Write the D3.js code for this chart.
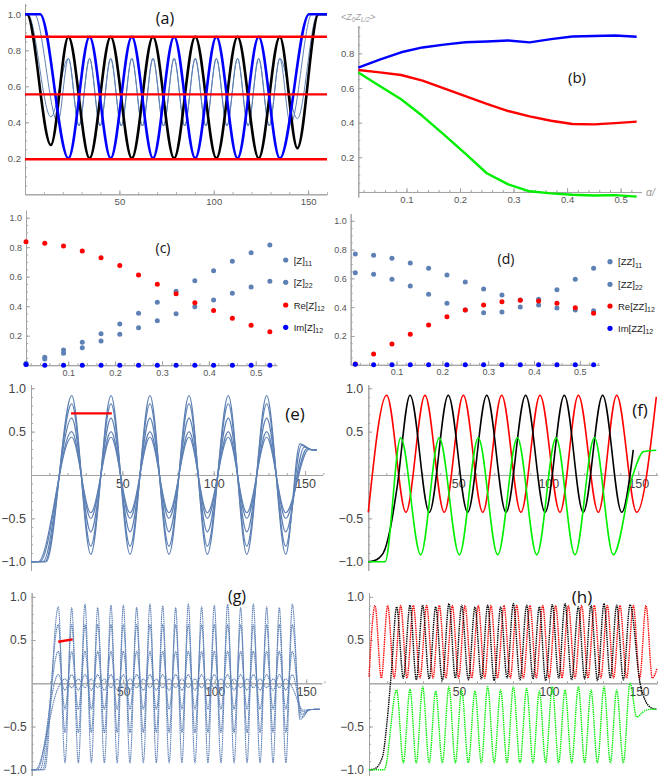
<!DOCTYPE html>
<html lang="en">
<head>
<meta charset="UTF-8">
<title>Panels a-h</title>
<script src="https://d3js.org/d3.v7.min.js"></script>
<style>
  body { margin: 0; background: #fff; }
  svg { display: block; }
</style>
</head>
<body>
<svg width="658" height="776" id="mainsvg"></svg>
<script>
// ---------------- data ----------------
// (a) extrema of the curves, x in sites, y in probability
const aRedLevels = [0.875, 0.555, 0.195];
const aBlackHead = [[0, 1], [1, 1], [13.7, 0.274]];
const aBlackPeakX = [23.0, 45.4, 67.8, 90.2, 112.6, 135.0];
const aBlackTroughX = [34.2, 56.6, 79.0, 101.4, 123.8];
const aBlackLevels = [0.875, 0.2];
const aBlackTail = [[144.3, 0.256], [155.5, 1], [160, 1]];
const aBlueHead = [[0, 1], [8, 1]];
const aBlueTail = [[150.5, 1], [160, 1]];
const aThinPeakX = [23.0, 34.2, 45.4, 56.6, 67.8, 79.0, 90.2, 101.4, 112.6, 123.8, 135.0];
const aThinTroughX = [28.6, 39.8, 51.0, 62.2, 73.4, 84.6, 95.8, 107.0, 118.2, 129.4];
const aThinLevels = [0.755, 0.38];
const aThinAHead = [[0, 1], [1.5, 1], [13.7, 0.43]];
const aThinATail = [[144.3, 0.42], [155, 1], [160, 1]];
const aThinBHead = [[0, 1], [5, 1], [17.4, 0.4]];
const aThinBTail = [[140.6, 0.39], [152, 1], [160, 1]];

// (b), (c), (d) share the alpha grid
const alphaVals = [0.01, 0.05, 0.09, 0.13, 0.17, 0.21, 0.25, 0.29, 0.33, 0.37, 0.41, 0.45, 0.49, 0.53];
const bBlue = [0.717, 0.764, 0.806, 0.834, 0.850, 0.864, 0.868, 0.874, 0.863, 0.882, 0.897, 0.900, 0.903, 0.896];
const bRed = [0.704, 0.690, 0.675, 0.643, 0.598, 0.553, 0.509, 0.467, 0.436, 0.411, 0.392, 0.390, 0.397, 0.406];
const bGreen = [0.690, 0.612, 0.535, 0.438, 0.331, 0.221, 0.108, 0.044, 0.004, -0.008, -0.016, -0.020, -0.018, -0.027];

const cZ11 = [0.013, 0.054, 0.103, 0.155, 0.214, 0.279, 0.352, 0.426, 0.501, 0.573, 0.641, 0.704, 0.763, 0.815];
const cZ22 = [0.006, 0.042, 0.081, 0.119, 0.164, 0.210, 0.254, 0.302, 0.349, 0.397, 0.442, 0.487, 0.530, 0.569];
const cReZ12 = [0.837, 0.826, 0.808, 0.774, 0.729, 0.675, 0.612, 0.548, 0.485, 0.424, 0.370, 0.318, 0.270, 0.227];
const cImZ12 = [0.004, 0, 0, 0, 0, 0, 0, 0, 0, 0, 0, 0, 0, 0];
const cLegend = [['[Z]', '11'], ['[Z]', '22'], ['Re[Z]', '12'], ['Im[Z]', '12']];

const dZZ11 = [0.769, 0.760, 0.740, 0.707, 0.670, 0.624, 0.575, 0.526, 0.485, 0.450, 0.455, 0.522, 0.594, 0.670];
const dZZ22 = [0.640, 0.628, 0.594, 0.547, 0.490, 0.427, 0.380, 0.362, 0.367, 0.401, 0.415, 0.394, 0.381, 0.376];
const dReZZ12 = [0.006, 0.075, 0.144, 0.212, 0.276, 0.334, 0.381, 0.415, 0.438, 0.448, 0.443, 0.427, 0.397, 0.358];
const dImZZ12 = [0.003, 0, 0, 0, 0, 0, 0, 0, 0, 0, 0, 0, 0, 0];
const dLegend = [['[ZZ]', '11'], ['[ZZ]', '22'], ['Re[ZZ]', '12'], ['Im[ZZ]', '12']];

// (e) five nested curves
const ePeakX = [22.3, 43.8, 65.1, 86.5, 108.0, 129.0];
const eTroughX = [32.7, 54.2, 75.5, 96.5, 118.1, 139.4];
const eAmp = [0.915, 0.82, 0.655, 0.5, 0.435];
const eStartX = [8.3, 7.7, 6.5, 4.9, 3.9];
const eEndPeak = [[147.2, 0.36], [148, 0.34], [149.5, 0.32], [151, 0.305], [152, 0.295]];
const eTail = [[154, 0.29], [156.4, 0.29]];
const eRedSeg = [[21.9, 0.71], [44.2, 0.71]];

// (f)
const fRedHead = [[0, -0.43]];
const fRedPeakX = [10.2, 31.5, 52.8, 74.1, 95.4, 116.7, 138.0];
const fRedTroughX = [20.9, 42.2, 63.6, 84.8, 106.5, 127.8, 149.1];
const fRedTail = [[160, 0.9]];
const fBlackHead = [[0, -1], [3, -0.99], [8.3, -0.9], [12.1, -0.63], [15.8, -0.17]];
const fBlackPeakX = [23.2, 44.4, 65.8, 87.4, 108.9, 130.2];
const fBlackTroughX = [33.9, 55.2, 76.5, 98.2, 119.4, 140.8];
const fBlackTail = [[147.2, 0.29]];
const fGreenHead = [[0, -1], [9.3, -1]];
const fGreenPeakX = [18.0, 39.4, 61.1, 82.8, 104.3, 125.6];
const fGreenTroughX = [29.1, 50.6, 71.9, 93.6, 114.8, 136.1];
const fGreenTail = [[147, 0.0], [153, 0.27], [160, 0.285]];
const fLevels = { red: [0.92, -0.43], black: [0.92, -0.43], green: [0.43, -0.92] };

// (g)
const gPeakX = [14.55, 21.84, 29.13, 36.05, 43.33, 50.07, 57.36, 64.64, 71.57, 78.67, 85.59, 92.88, 99.80, 107.09, 114.19, 121.11, 128.40, 135.32, 142.42];
const gTroughX = [18.2, 25.5, 32.6, 39.7, 46.7, 53.7, 61.0, 68.1, 75.1, 82.1, 89.2, 96.3, 103.4, 110.6, 117.7, 124.8, 131.9, 138.9];
const gOuterPeakY = [0.884, 0.872, 0.915, 0.876, 0.903, 0.903, 0.876, 0.915, 0.895, 0.876, 0.915, 0.884, 0.903, 0.915, 0.876, 0.915, 0.884, 0.876, 0.915];
const gOuterTrough = -0.92;
const gInner = [[0.68, -0.57], [0.37, -0.3], [0.1, -0.08], [-0.05, 0.05]];
const gStartX = [7, 6, 4.5, 3, 2];
const gEndDip = [[146.6, -0.42], [147, -0.39], [147.4, -0.36], [147.8, -0.33], [148.2, -0.31]];
const gTail = [[152, -0.305], [157.5, -0.3]];
const gRedSeg = [[14.5, 0.48], [22.4, 0.508]];

// (h)
const hRedPeakX = [3.33, 10.37, 17.59, 24.63, 32.04, 39.07, 46.30, 53.33, 60.74, 67.78, 75.00, 82.04, 89.44, 96.48, 103.70, 110.74, 118.15, 125.19, 132.41, 139.44, 146.85, 153.89];
const hRedTroughX = [6.85, 13.98, 21.11, 28.33, 35.56, 42.69, 49.81, 57.04, 64.26, 71.39, 78.52, 85.74, 92.96, 100.09, 107.22, 114.44, 121.67, 128.80, 135.93, 143.15, 150.37, 157.40];
const hRedLevels = [0.9, 0.06];
const hRedHead = [[0, 0.075]];
const hRedTail = [[160, 0.17]];
const hPeakX = [15.37, 22.78, 29.81, 37.04, 44.44, 51.48, 58.89, 65.93, 73.15, 80.19, 87.59, 94.63, 101.85, 108.89, 116.30, 123.33, 130.56, 137.59, 145.0];
const hTroughX = [19.07, 26.30, 33.43, 40.74, 47.96, 55.19, 62.41, 69.54, 76.67, 83.89, 91.11, 98.15, 105.37, 112.59, 119.82, 126.94, 134.08, 141.3];
const hBlackPeakY = [0.884, 0.903, 0.903, 0.884, 0.922, 0.903, 0.884, 0.903, 0.884, 0.922, 0.903, 0.884, 0.91, 0.922, 0.884, 0.903, 0.922, 0.903, 0.91];
const hBlackTroughY = [0.06, 0.04, 0.05, 0.03, 0.06, 0.04, 0.05, 0.03, 0.06, 0.04, 0.05, 0.03, 0.06, 0.04, 0.05, 0.03, 0.06, 0.04];
const hBlackHead = [[0, -1], [3, -0.99], [7.5, -0.85], [10, -0.45], [12.5, 0.15]];
const hBlackTail = [[150.6, 0], [154, -0.22], [157.5, -0.29], [160, -0.3]];
const hGreenPeakY = [-0.077, -0.07, -0.04, -0.09, -0.04, -0.077, -0.09, -0.04, -0.077, -0.04, -0.059, -0.09, -0.04, -0.077, -0.04, -0.077, -0.04, -0.077, 0.0];
const hGreenTrough = -0.92;
const hGreenHead = [[0, -1], [8.5, -1]];
const hGreenTail = [[148.7, -0.39], [153, -0.32], [157, -0.3], [160, -0.3]];

// ticks
const siteTicks = [50, 100, 150];
const alphaTicks = [0.1, 0.2, 0.3, 0.4, 0.5];
const probTicks = [0.2, 0.4, 0.6, 0.8, 1.0];
const bTicks = [0.2, 0.4, 0.6, 0.8];
const waveTicks = [-1.0, -0.5, 0.5, 1.0];

// ---------------- drawing ----------------
const svg = d3.select('#mainsvg');
const AXIS = '#a3a3a3';
const MBLUE = '#5e81b5';
const f1 = d3.format('.1f');

// join extrema: first series, second series alternating
function wave(head, ax, ay, bx, by, tail) {
    const pts = head.slice();
    ax.forEach((x, i) => {
        pts.push([x, Array.isArray(ay) ? ay[i] : ay]);
        if (i < bx.length) pts.push([bx[i], Array.isArray(by) ? by[i] : by]);
    });
    return pts.concat(tail);
}

function panel(o) {
    const x = d3.scaleLinear().domain(o.xd).range(o.xr);
    const y = d3.scaleLinear().domain(o.yd).range(o.yr);
    const g = svg.append('g');
    const y0 = y(0), x0 = x(o.xd[0]);
    g.append('g').attr('transform', `translate(0,${y0})`)
        .call(d3.axisBottom(x).tickValues(o.xMinor).tickSizeInner(-2).tickSizeOuter(0).tickFormat(''));
    g.append('g').attr('transform', `translate(${x0},0)`)
        .call(d3.axisLeft(y).tickValues(o.yMinor).tickSizeInner(-2).tickSizeOuter(0).tickFormat(''));
    g.append('g').attr('transform', `translate(0,${y0})`)
        .call(d3.axisBottom(x).tickValues(o.xTicks).tickSizeInner(-4).tickSizeOuter(0).tickPadding(o.padX).tickFormat(o.xFmt));
    g.append('g').attr('transform', `translate(${x0},0)`)
        .call(d3.axisLeft(y).tickValues(o.yTicks).tickSizeInner(-4).tickSizeOuter(0).tickPadding(o.padY).tickFormat(o.yFmt));
    g.selectAll('.domain, .tick line').attr('stroke', AXIS).attr('stroke-width', 1);
    g.selectAll('.tick text').attr('fill', o.tc).attr('font-size', o.fs)
        .attr('font-family', '"Liberation Sans", Arial, sans-serif');
    const line = d3.line().x(d => x(d[0])).y(d => y(d[1]));
    return { g, x, y, line };
}

function curve(p, pts, color, width, curveType, dash) {
    p.g.append('path')
        .attr('d', p.line.curve(curveType || d3.curveMonotoneX)(pts))
        .attr('fill', 'none')
        .attr('stroke', color)
        .attr('stroke-width', width)
        .attr('stroke-dasharray', dash || null)
        .attr('stroke-linejoin', 'round');
}

function label(txt, x, y, size) {
    svg.append('text').text(txt)
        .attr('x', x).attr('y', y)
        .attr('text-anchor', 'middle')
        .attr('dominant-baseline', 'central')
        .attr('font-family', '"Open Sans", sans-serif')
        .attr('font-size', size)
        .attr('fill', '#111');
}

// ---- (a)
const pa = panel({ xd: [0, 160], xr: [25, 327], yd: [0, 1.06], yr: [194.3, 3.5],
    xTicks: siteTicks, yTicks: probTicks, xMinor: d3.range(10, 161, 10), yMinor: d3.range(0.05, 1.06, 0.05),
    xFmt: d3.format('d'), yFmt: f1, padX: 4, padY: 4, fs: 9.5, tc: '#555' });
curve(pa, wave(aThinAHead, aThinPeakX, aThinLevels[0], aThinTroughX, aThinLevels[1], aThinATail), MBLUE, 1);
curve(pa, wave(aThinBHead, aThinPeakX, aThinLevels[0], aThinTroughX, aThinLevels[1], aThinBTail), MBLUE, 1);
curve(pa, wave(aBlackHead, aBlackPeakX, aBlackLevels[0], aBlackTroughX, aBlackLevels[1], aBlackTail), '#000', 2.6);
curve(pa, wave(aBlueHead, aBlackPeakX, aBlackLevels[1], aBlackTroughX, aBlackLevels[0], aBlueTail), '#0000ff', 2.6);
aRedLevels.forEach(v => curve(pa, [[0, v], [160, v]], '#ff0000', 2.4, d3.curveLinear));
label('(a)', 165, 18, 16);

// ---- (b)
const pb = panel({ xd: [0.01, 0.539], xr: [358.3, 641.5], yd: [-0.03, 0.96], yr: [197.17, 25.6],
    xTicks: alphaTicks, yTicks: bTicks, xMinor: d3.range(0.02, 0.54, 0.02), yMinor: d3.range(0.05, 0.96, 0.05),
    xFmt: f1, yFmt: f1, padX: 4, padY: 4, fs: 9.5, tc: '#555' });
[[bBlue, '#0000ff'], [bRed, '#ff0000'], [bGreen, '#00ee00']].forEach(([vals, col]) => {
    curve(pb, vals.map((v, i) => [alphaVals[i], v]), col, 2.4, d3.curveLinear);
});
const bl = svg.append('text').attr('x', 341).attr('y', 20).attr('fill', '#999')
    .attr('font-family', '"Liberation Sans", Arial, sans-serif').attr('font-size', 9).attr('font-style', 'italic');
bl.append('tspan').text('<Z');
bl.append('tspan').text('0').attr('font-size', 6.5).attr('dy', 2);
bl.append('tspan').text('Z').attr('dy', -2);
bl.append('tspan').text('L/2').attr('font-size', 6.5).attr('dy', 2);
bl.append('tspan').text('>').attr('dy', -2);
svg.append('text').text('α/').attr('x', 646).attr('y', 196).attr('fill', '#999')
    .attr('font-family', '"Liberation Sans", Arial, sans-serif').attr('font-size', 10.5).attr('font-style', 'italic');
label('(b)', 577, 77, 15);

// ---- (c) and (d) scatter with legends
function scatter(p, series, legend, lx, ly) {
    const cols = [MBLUE, MBLUE, '#ff0000', '#0000ff'];
    series.forEach((vals, s) => {
        p.g.selectAll(null).data(vals).join('circle')
            .attr('cx', (d, i) => p.x(alphaVals[i]))
            .attr('cy', d => p.y(d))
            .attr('r', 2.5)
            .attr('fill', cols[s]);
    });
    legend.forEach((t, i) => {
        const yy = ly[i];
        svg.append('circle').attr('cx', lx).attr('cy', yy).attr('r', 2.6).attr('fill', cols[i]);
        const tx = svg.append('text').attr('x', lx + 8).attr('y', yy + 3.5)
            .attr('font-family', '"Liberation Sans", Arial, sans-serif').attr('font-size', 9.5).attr('fill', '#222');
        tx.append('tspan').text(t[0]);
        tx.append('tspan').text(t[1]).attr('font-size', 7).attr('dy', 2.5);
    });
}

const pc = panel({ xd: [0.01, 0.545], xr: [26, 276.9], yd: [0, 1.05], yr: [365.2, 210.3],
    xTicks: alphaTicks, yTicks: probTicks, xMinor: d3.range(0.02, 0.545, 0.02), yMinor: d3.range(0.05, 1.05, 0.05),
    xFmt: f1, yFmt: f1, padX: 4, padY: 4, fs: 9, tc: '#555' });
scatter(pc, [cZ11, cZ22, cReZ12, cImZ12], cLegend, 285.7, [260, 282.3, 305, 327.3]);
label('(c)', 163, 247, 14);

const pd = panel({ xd: [0, 0.542], xr: [350.7, 599.1], yd: [0, 1.05], yr: [364.8, 213.6],
    xTicks: alphaTicks, yTicks: probTicks, xMinor: d3.range(0.02, 0.542, 0.02), yMinor: d3.range(0.05, 1.05, 0.05),
    xFmt: f1, yFmt: f1, padX: 4, padY: 4, fs: 9, tc: '#555' });
scatter(pd, [dZZ11, dZZ22, dReZZ12, dImZZ12], dLegend, 610, [261.7, 284.3, 306, 328.3]);
label('(d)', 506, 258, 14);

// ---- (e)
const waveOpts = { xTicks: siteTicks, yTicks: waveTicks, xMinor: d3.range(10, 161, 10),
    yMinor: d3.range(-1.0, 1.01, 0.1), xFmt: d3.format('d'), yFmt: f1, padX: 4, padY: 5, fs: 12.5, tc: '#444' };
const pe = panel(Object.assign({ xd: [0, 159.6], xr: [31, 322.6], yd: [-1.1, 1.04], yr: [570.4, 384.8] }, waveOpts));
eAmp.forEach((a, i) => {
    const pts = wave([[0, -1], [eStartX[i], -1]], ePeakX, a, eTroughX, -a, [eEndPeak[i]].concat(eTail));
    curve(pe, pts, MBLUE, 1.2);
});
curve(pe, eRedSeg, '#ff0000', 2.4, d3.curveLinear);
label('(e)', 295, 413, 17);

// ---- (f)
const pf = panel(Object.assign({ xd: [0, 161.5], xr: [368.3, 659], yd: [-1.1, 1.04], yr: [570.4, 384.8] }, waveOpts));
curve(pf, wave(fRedHead, fRedPeakX, fLevels.red[0], fRedTroughX, fLevels.red[1], fRedTail), '#ff0000', 1.6);
curve(pf, wave(fBlackHead, fBlackPeakX, fLevels.black[0], fBlackTroughX, fLevels.black[1], fBlackTail), '#000', 1.6);
curve(pf, wave(fGreenHead, fGreenPeakX, fLevels.green[0], fGreenTroughX, fLevels.green[1], fGreenTail), '#00ee00', 1.6);
label('(f)', 640, 409, 17);

// ---- (g)
const waveOpts2 = Object.assign({}, waveOpts, { fs: 12 });
const pg = panel(Object.assign({ xd: [0, 158.5], xr: [31.7, 321.75], yd: [-1.07, 1.05], yr: [775.8, 592.5] }, waveOpts2));
curve(pg, wave([[0, -1], [gStartX[0], -1]], gPeakX, gOuterPeakY, gTroughX, gOuterTrough, [gEndDip[0]].concat(gTail)), MBLUE, 1.1, null, '1.5,0.6');
gInner.forEach((lv, i) => {
    const pts = wave([[0, -1], [gStartX[i + 1], -1]], gPeakX, lv[0], gTroughX, lv[1], [gEndDip[i + 1]].concat(gTail));
    curve(pg, pts, MBLUE, 1.1, null, '1.5,0.6');
});
curve(pg, gRedSeg, '#ff0000', 2.4, d3.curveLinear);
label('(g)', 237, 596, 16);

// ---- (h)
const ph = panel(Object.assign({ xd: [0, 160.5], xr: [369, 657.9], yd: [-1.07, 1.05], yr: [775.8, 592.5] }, waveOpts2));
curve(ph, wave(hRedHead, hRedPeakX, hRedLevels[0], hRedTroughX, hRedLevels[1], hRedTail), '#ff0000', 1.4, null, '1.4,0.8');
curve(ph, wave(hBlackHead, hPeakX, hBlackPeakY, hTroughX, hBlackTroughY, hBlackTail), '#000', 1.4, null, '1.4,0.8');
curve(ph, wave(hGreenHead, hPeakX, hGreenPeakY, hTroughX, hGreenTrough, hGreenTail), '#00ee00', 1.4, null, '1.4,0.8');
label('(h)', 582, 596, 17);
</script>
</body>
</html>
